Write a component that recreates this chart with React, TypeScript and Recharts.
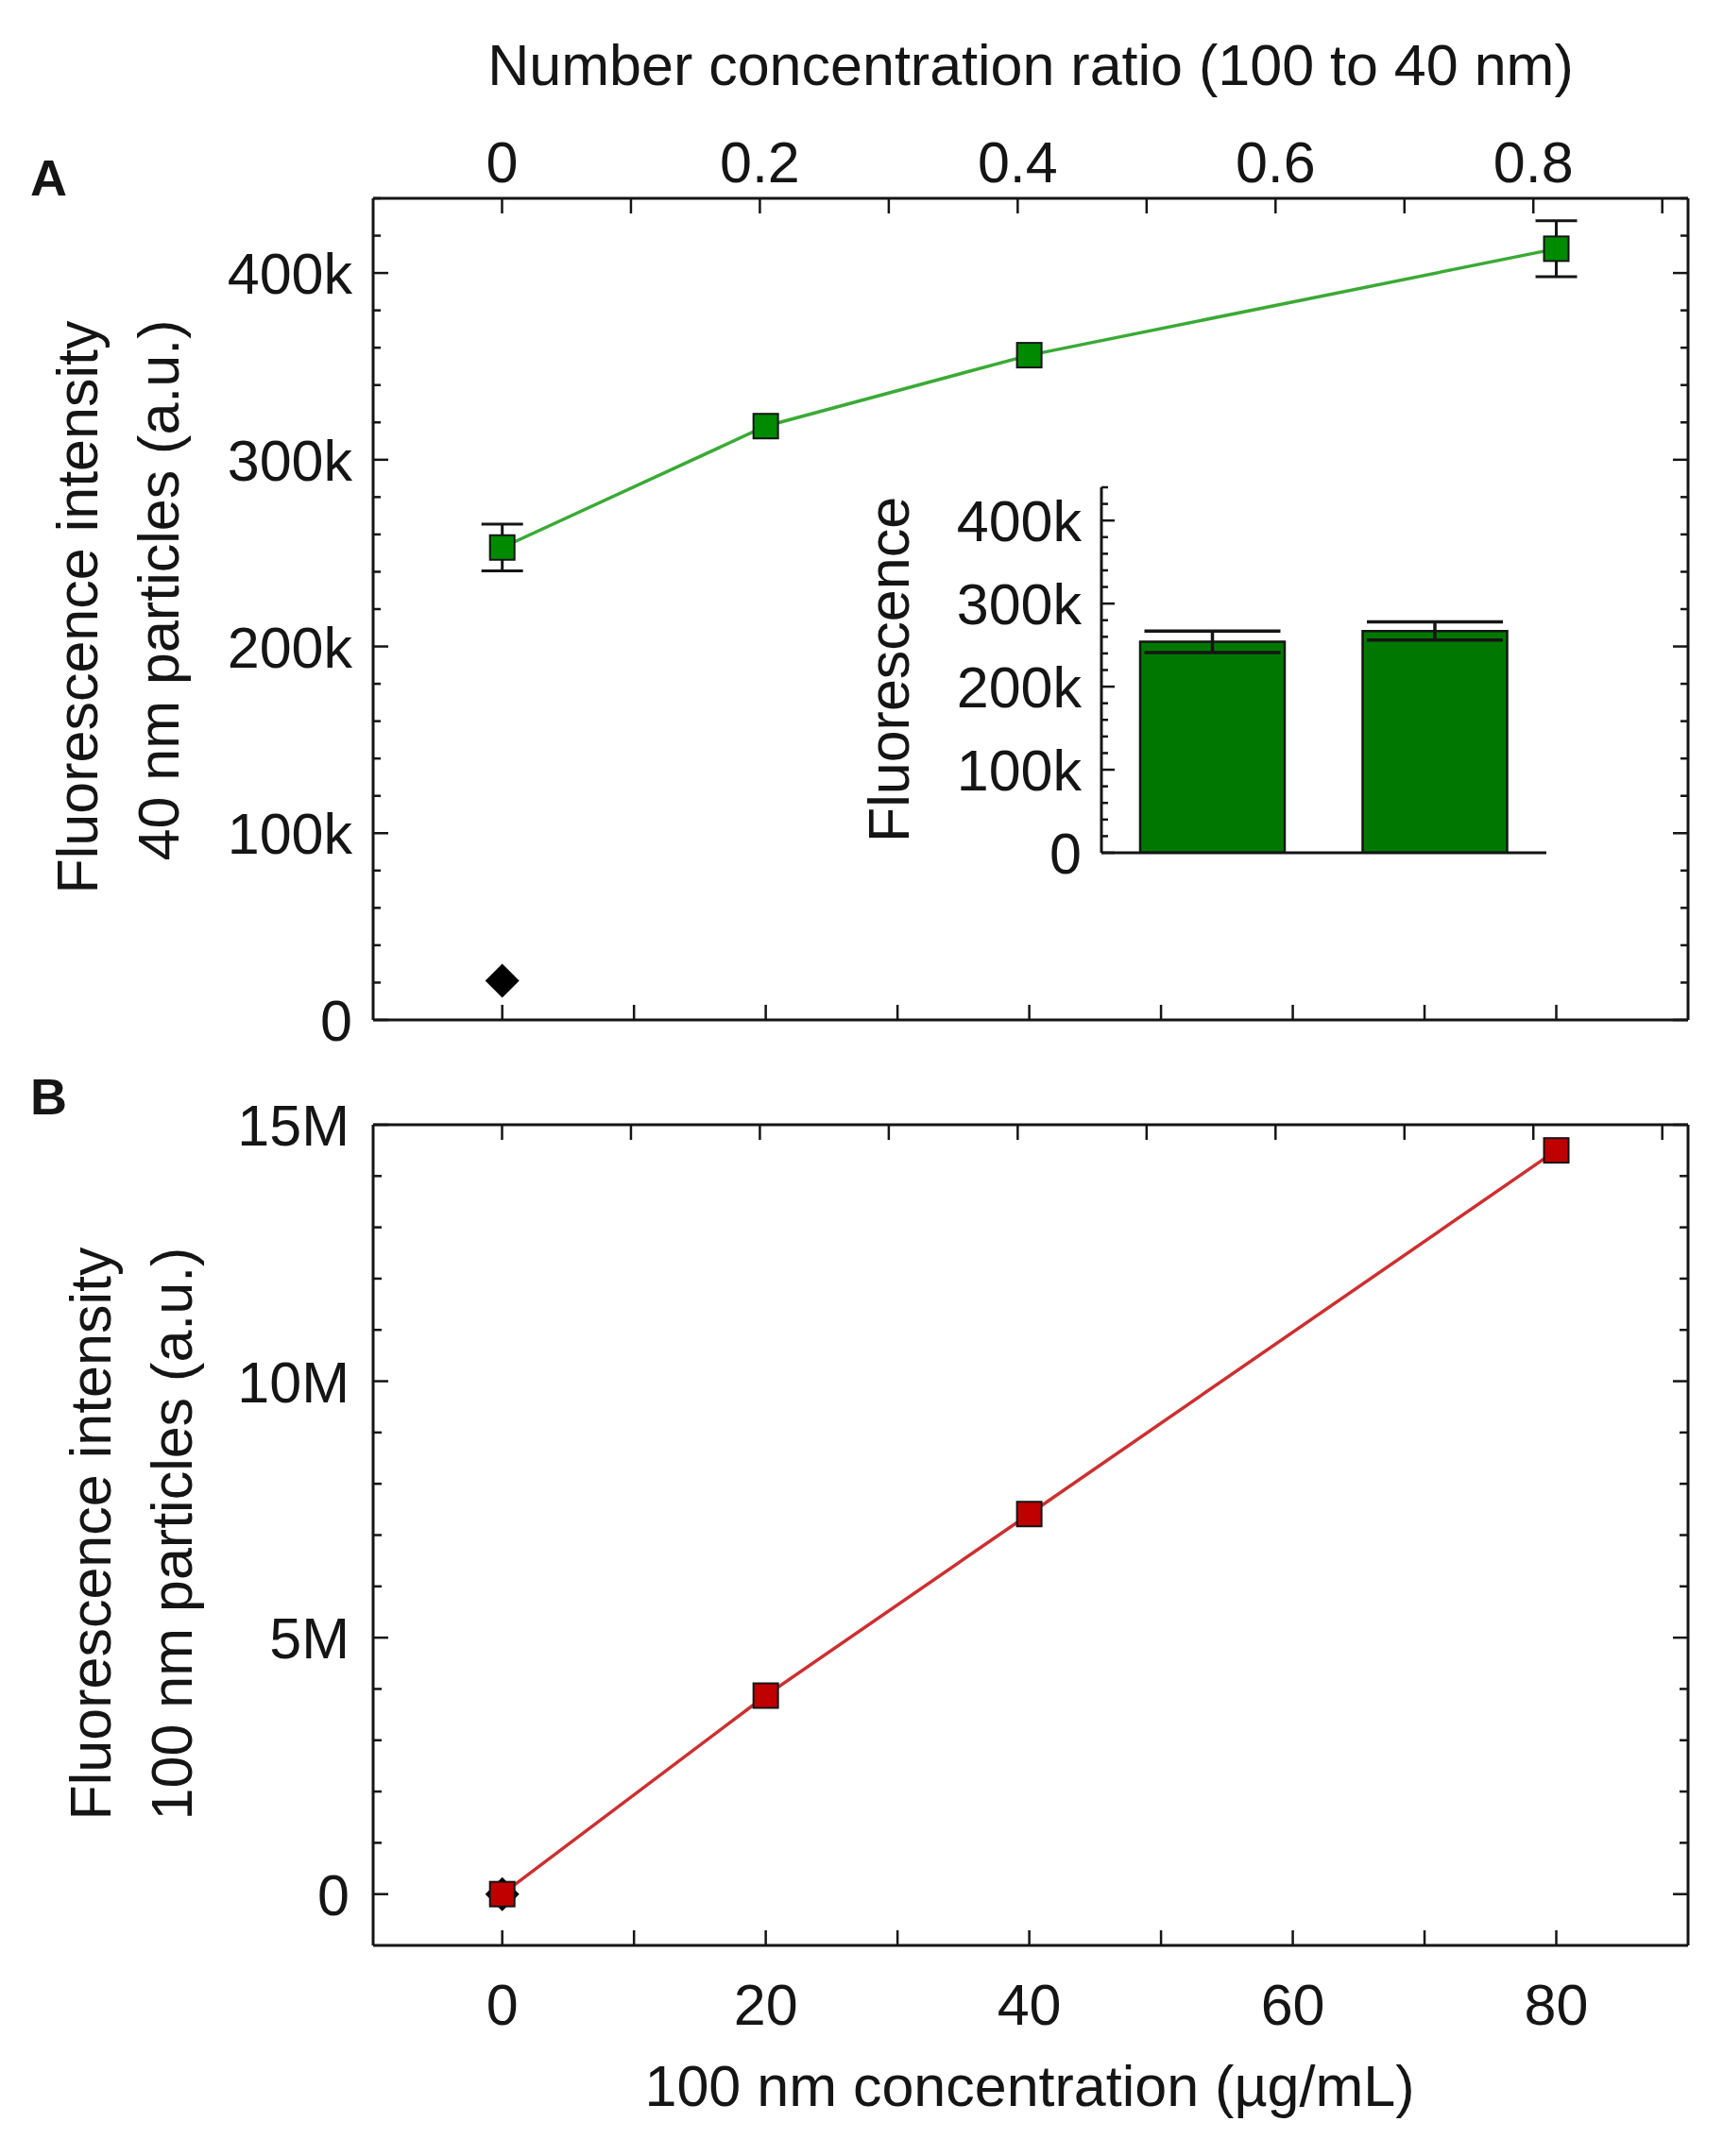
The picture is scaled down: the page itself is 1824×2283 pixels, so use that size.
import React from 'react';
import { ComposedChart, BarChart, Bar, Line, XAxis, YAxis, ErrorBar } from 'recharts';

const FONT = '"Liberation Sans", Arial, Helvetica, sans-serif';
const INK = '#151515';
const GREEN_LINE = '#3aaa35';
const GREEN_FILL = '#008a00';
const BAR_FILL = '#007800';
const RED_LINE = '#cc3030';
const RED_FILL = '#c00000';

// 100 nm particle concentration (ug/mL)
const concentrations = [0, 20, 40, 80];

// panel A: fluorescence of the 40 nm particles
const fluor40 = [253000, 318000, 356000, 413000];
const fluor40Err = [12500, null, null, 15000];
const control40 = [21000];

// panel B: fluorescence of the 100 nm particles
const fluor100 = [0, 3870000, 7410000, 14500000];
const control100 = [0];

// inset bars
const insetGroups = ['40 nm', '40 nm + 100 nm'];
const insetValues = [254000, 267000];
const insetErr = [13000, 11000];

// axes
const concDomain = [-9.8, 90];
const ratioDomain = [-0.1, 0.92];
const concTicks = [0, 10, 20, 30, 40, 50, 60, 70, 80];
const concLabels = [0, 20, 40, 60, 80];
const ratioTicks = [0, 0.1, 0.2, 0.3, 0.4, 0.5, 0.6, 0.7, 0.8, 0.9];
const ratioLabels = [0, 0.2, 0.4, 0.6, 0.8];
const fluorADomain = [0, 440000];
const fluorALabels = [0, 100000, 200000, 300000, 400000];
const fluorBDomain = [-1000000, 15000000];
const fluorBLabels = [0, 5000000, 10000000, 15000000];

const steps = (from: number, to: number, step: number) => {
  const out: number[] = [];
  for (let v = from; v <= to + step / 1000; v += step) out.push(Math.round(v));
  return out;
};
const fluorATicks = steps(0, 440000, 20000);
const fluorBTicks = steps(0, 15000000, 1000000);

const greenData = concentrations.map((x, i) => ({ x, y: fluor40[i], err: fluor40Err[i] ?? undefined }));
const controlAData = control40.map((y) => ({ x: 0, y }));
const redData = concentrations.map((x, i) => ({ x, y: fluor100[i] }));
const controlBData = control100.map((y) => ({ x: 0, y }));
const insetData = insetGroups.map((name, i) => ({ name, value: insetValues[i], err: insetErr[i] }));
// the secondary (ratio) axis needs something bound to it so that it gets a scale
const ratioAnchor = ratioDomain.map((r) => ({ r, y: null }));

const fmtK = (v: number) => (v === 0 ? '0' : `${v / 1000}k`);
const fmtM = (v: number) => (v === 0 ? '0' : `${v / 1000000}M`);
const fmtRatio = (v: number) => (v === 0 ? '0' : v.toFixed(1));
const fmtInt = (v: number) => `${v}`;

const textStyle = { fontFamily: FONT, fontSize: 61, fill: INK };

type Side = 'left' | 'right' | 'top' | 'bottom';

// ticks point into the plot, labels sit outside
const makeTick =
  (side: Side, labels: number[], fmt: ((v: number) => string) | null, majorLen: number, minorLen: number, gap: number) =>
  (props: any) => {
    const { x, y, payload, index } = props;
    const v = payload.value as number;
    const major = labels.some((m) => Math.abs(m - v) < 1e-9);
    const len = major ? majorLen : minorLen;
    const dx = side === 'left' ? len : side === 'right' ? -len : 0;
    const dy = side === 'top' ? len : side === 'bottom' ? -len : 0;
    let label = null;
    if (fmt && major) {
      if (side === 'left') {
        label = (
          <text x={x - gap} y={y} dy="0.36em" textAnchor="end" style={textStyle}>
            {fmt(v)}
          </text>
        );
      } else if (side === 'top') {
        label = (
          <text x={x} y={y - gap} textAnchor="middle" style={textStyle}>
            {fmt(v)}
          </text>
        );
      } else if (side === 'bottom') {
        label = (
          <text x={x} y={y + gap} textAnchor="middle" style={textStyle}>
            {fmt(v)}
          </text>
        );
      }
    }
    return (
      <g key={`t-${side}-${index}`}>
        <line x1={x} y1={y} x2={x + dx} y2={y + dy} stroke={INK} strokeWidth={2.5} />
        {label}
      </g>
    );
  };

const squareDot = (fill: string) => (p: any) => {
  if (p.cx == null || p.cy == null) return <g key={`sq-${p.index}`} />;
  return (
    <rect
      key={`sq-${p.index}`}
      x={p.cx - 13}
      y={p.cy - 13}
      width={26}
      height={26}
      fill={fill}
      stroke={INK}
      strokeWidth={2}
    />
  );
};

const diamondDot = (p: any) => {
  if (p.cx == null || p.cy == null) return <g key={`dm-${p.index}`} />;
  const r = 18;
  return (
    <polygon
      key={`dm-${p.index}`}
      points={`${p.cx},${p.cy - r} ${p.cx + r},${p.cy} ${p.cx},${p.cy + r} ${p.cx - r},${p.cy}`}
      fill="#000"
    />
  );
};

const axisLine = { stroke: INK, strokeWidth: 3 };

const ratioAxis = (showLabels: boolean, height: number) => (
  <XAxis
    xAxisId="ratio"
    type="number"
    dataKey="r"
    orientation="top"
    domain={ratioDomain}
    allowDataOverflow
    ticks={ratioTicks}
    interval={0}
    tickSize={0}
    tickMargin={0}
    tickLine={false}
    tick={makeTick('top', ratioLabels, showLabels ? fmtRatio : null, 16, 16, 17)}
    axisLine={axisLine}
    height={height}
  />
);

const PanelA = () => (
  <ComposedChart width={1824} height={1140} margin={{ top: 0, right: 0, bottom: 0, left: 0 }}>
    <XAxis
      xAxisId="conc"
      type="number"
      dataKey="x"
      orientation="bottom"
      domain={concDomain}
      allowDataOverflow
      ticks={concTicks}
      interval={0}
      tickSize={0}
      tickMargin={0}
      tickLine={false}
      tick={makeTick('bottom', concTicks, null, 16, 16, 0)}
      axisLine={axisLine}
      height={60}
    />
    {ratioAxis(true, 210)}
    <YAxis
      yAxisId="f"
      type="number"
      orientation="left"
      domain={fluorADomain}
      allowDataOverflow
      ticks={fluorATicks}
      interval={0}
      tickSize={0}
      tickMargin={0}
      tickLine={false}
      tick={makeTick('left', fluorALabels, fmtK, 16, 8, 22)}
      axisLine={axisLine}
      width={395}
    />
    <YAxis
      yAxisId="fr"
      type="number"
      orientation="right"
      domain={fluorADomain}
      allowDataOverflow
      ticks={fluorATicks}
      interval={0}
      tickSize={0}
      tickMargin={0}
      tickLine={false}
      tick={makeTick('right', fluorALabels, null, 16, 8, 0)}
      axisLine={axisLine}
      width={37}
    />
    <Line
      xAxisId="ratio"
      yAxisId="f"
      data={ratioAnchor}
      dataKey="y"
      stroke="none"
      dot={false}
      activeDot={false}
      isAnimationActive={false}
    />
    <Line
      xAxisId="conc"
      yAxisId="f"
      data={controlAData}
      dataKey="y"
      stroke="none"
      dot={diamondDot}
      isAnimationActive={false}
    />
    <Line
      xAxisId="conc"
      yAxisId="f"
      data={greenData}
      dataKey="y"
      stroke="none"
      dot={false}
      isAnimationActive={false}
    >
      <ErrorBar dataKey="err" direction="y" width={22} stroke={INK} strokeWidth={3} isAnimationActive={false} />
    </Line>
    <Line
      xAxisId="conc"
      yAxisId="f"
      data={greenData}
      dataKey="y"
      stroke={GREEN_LINE}
      strokeWidth={3.5}
      dot={squareDot(GREEN_FILL)}
      isAnimationActive={false}
    />
  </ComposedChart>
);

const Inset = () => (
  <BarChart width={800} height={470} data={insetData} margin={{ top: 46, right: 43, bottom: 0, left: 0 }}>
    <XAxis dataKey="name" tick={false} tickLine={false} axisLine={axisLine} height={37} />
    <YAxis
      type="number"
      domain={fluorADomain}
      allowDataOverflow
      ticks={fluorATicks}
      interval={0}
      tickSize={0}
      tickMargin={0}
      tickLine={false}
      tick={makeTick('left', fluorALabels, fmtK, 14, 7, 21)}
      axisLine={axisLine}
      width={286}
    />
    <Bar dataKey="value" fill={BAR_FILL} stroke={INK} strokeWidth={2.5} barSize={153} isAnimationActive={false}>
      <ErrorBar dataKey="err" direction="y" width={72} stroke={INK} strokeWidth={3.5} isAnimationActive={false} />
    </Bar>
  </BarChart>
);

const PanelB = () => (
  <ComposedChart width={1824} height={1143} margin={{ top: 0, right: 0, bottom: 0, left: 0 }}>
    <XAxis
      xAxisId="conc"
      type="number"
      dataKey="x"
      orientation="bottom"
      domain={concDomain}
      allowDataOverflow
      ticks={concTicks}
      interval={0}
      tickSize={0}
      tickMargin={0}
      tickLine={false}
      tick={makeTick('bottom', concLabels, fmtInt, 16, 16, 84)}
      axisLine={axisLine}
      height={223}
    />
    {ratioAxis(false, 51)}
    <YAxis
      yAxisId="f"
      type="number"
      orientation="left"
      domain={fluorBDomain}
      allowDataOverflow
      ticks={fluorBTicks}
      interval={0}
      tickSize={0}
      tickMargin={0}
      tickLine={false}
      tick={makeTick('left', fluorBLabels, fmtM, 16, 9, 25)}
      axisLine={axisLine}
      width={395}
    />
    <YAxis
      yAxisId="fr"
      type="number"
      orientation="right"
      domain={fluorBDomain}
      allowDataOverflow
      ticks={fluorBTicks}
      interval={0}
      tickSize={0}
      tickMargin={0}
      tickLine={false}
      tick={makeTick('right', fluorBLabels, null, 16, 9, 0)}
      axisLine={axisLine}
      width={37}
    />
    <Line
      xAxisId="ratio"
      yAxisId="f"
      data={ratioAnchor}
      dataKey="y"
      stroke="none"
      dot={false}
      activeDot={false}
      isAnimationActive={false}
    />
    <Line
      xAxisId="conc"
      yAxisId="f"
      data={controlBData}
      dataKey="y"
      stroke="none"
      dot={diamondDot}
      isAnimationActive={false}
    />
    <Line
      xAxisId="conc"
      yAxisId="f"
      data={redData}
      dataKey="y"
      stroke={RED_LINE}
      strokeWidth={3.5}
      dot={squareDot(RED_FILL)}
      isAnimationActive={false}
    />
  </ComposedChart>
);

export default function App() {
  return (
    <div style={{ position: 'relative', width: 1824, height: 2283, background: '#fff' }}>
      <style>{'body{margin:0}'}</style>
      <div style={{ position: 'absolute', left: 0, top: 0 }}>
        <PanelA />
      </div>
      <div style={{ position: 'absolute', left: 880, top: 470 }}>
        <Inset />
      </div>
      <div style={{ position: 'absolute', left: 0, top: 1140 }}>
        <PanelB />
      </div>
      <svg
        width={1824}
        height={2283}
        style={{ position: 'absolute', left: 0, top: 0, pointerEvents: 'none' }}
      >
        <g style={{ fontFamily: FONT, fill: INK }}>
          <text x={32} y={207} style={{ fontSize: 54, fontWeight: 'bold' }}>A</text>
          <text x={32} y={1180} style={{ fontSize: 54, fontWeight: 'bold' }}>B</text>
          <text x={1091} y={90} textAnchor="middle" style={{ fontSize: 61 }}>
            Number concentration ratio (100 to 40 nm)
          </text>
          <text x={1090} y={2230} textAnchor="middle" style={{ fontSize: 61 }}>
            100 nm concentration (µg/mL)
          </text>
          <text x={103} y={643} textAnchor="middle" transform="rotate(-90 103 643)" style={{ fontSize: 61 }}>
            Fluorescence intensity
          </text>
          <text x={189} y={625} textAnchor="middle" transform="rotate(-90 189 625)" style={{ fontSize: 61 }}>
            40 nm particles (a.u.)
          </text>
          <text x={117} y={1624} textAnchor="middle" transform="rotate(-90 117 1624)" style={{ fontSize: 61 }}>
            Fluorescence intensity
          </text>
          <text x={203} y={1624} textAnchor="middle" transform="rotate(-90 203 1624)" style={{ fontSize: 61 }}>
            100 nm particles (a.u.)
          </text>
          <text x={962} y={709} textAnchor="middle" transform="rotate(-90 962 709)" style={{ fontSize: 61 }}>
            Fluorescence
          </text>
        </g>
      </svg>
    </div>
  );
}
